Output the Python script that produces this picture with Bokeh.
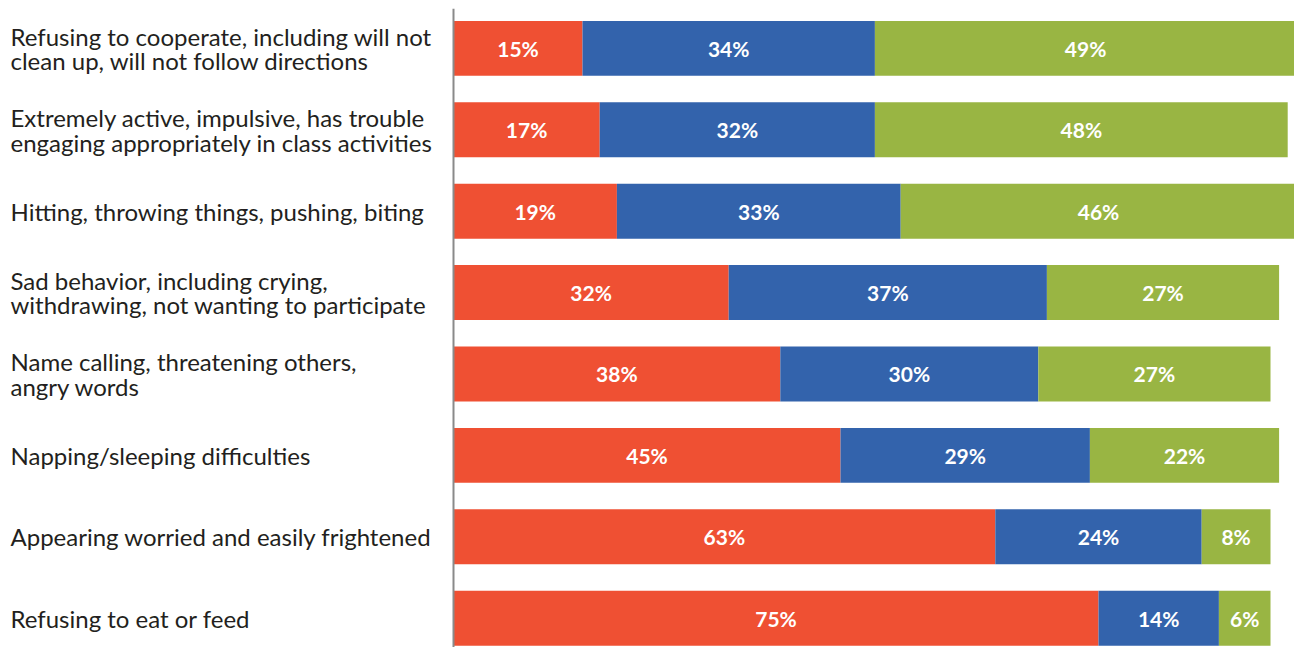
from bokeh.plotting import figure
from bokeh.models import Range1d, ColumnDataSource, Span
from bokeh.core.properties import value
from bokeh.embed import file_html
from bokeh.resources import INLINE

categories = [
    "Refusing to cooperate, including will not\nclean up, will not follow directions",
    "Extremely active, impulsive, has trouble\nengaging appropriately in class activities",
    "Hitting, throwing things, pushing, biting",
    "Sad behavior, including crying,\nwithdrawing, not wanting to participate",
    "Name calling, threatening others,\nangry words",
    "Napping/sleeping difficulties",
    "Appearing worried and easily frightened",
    "Refusing to eat or feed",
]
series_a = [15, 17, 19, 32, 38, 45, 63, 75]   # red
series_b = [34, 32, 33, 37, 30, 29, 24, 14]   # blue
series_c = [49, 48, 46, 27, 27, 22, 8, 6]     # green
colors = ["#EF5033", "#3363AC", "#99B543"]

W, H = 1294, 647
axis_px = 453
px_per = 8.6
x_start = -axis_px / px_per
x_end = (W - axis_px) / px_per

ys = list(range(len(categories)))

p = figure(width=W, height=H, output_backend="svg", toolbar_location=None,
           x_range=Range1d(x_start, x_end), y_range=Range1d(7.36, -0.49),
           min_border_left=0, min_border_right=0, min_border_top=8, min_border_bottom=0)
p.xaxis.visible = False
p.yaxis.visible = False
p.xgrid.visible = False
p.ygrid.visible = False
p.outline_line_color = None
p.background_fill_color = "white"
p.border_fill_color = "white"

lefts, rights, ys_all, cols, labels, mids = [], [], [], [], [], []
for i in ys:
    start = 0
    for vals, c in zip([series_a, series_b, series_c], colors):
        v = vals[i]
        lefts.append(start)
        rights.append(start + v)
        ys_all.append(i)
        cols.append(c)
        labels.append(f"{v}%")
        mids.append(start + v / 2)
        start += v

src = ColumnDataSource(dict(left=lefts, right=rights, y=ys_all, color=cols, label=labels, mid=mids))
p.hbar(y="y", left="left", right="right", height=0.675, fill_color="color", line_color=None, source=src)
p.text(x="mid", y="y", text="label", source=src, text_color="white",
       text_font=value("Lato"), text_font_style="bold", text_font_size="21px",
       text_align="center", text_baseline="middle")

p.add_layout(Span(location=0, dimension="height", line_color="#8a8a8a", line_width=2))

lab_src = ColumnDataSource(dict(x=[x_start + 10 / px_per] * len(categories), y=ys, text=categories))
p.text(x="x", y="y", text="text", source=lab_src, text_color="#231f20",
       text_font=value("Lato"), text_font_size="24px", text_align="left",
       text_baseline="middle", text_line_height=0.85)

open("out.html", "w").write(file_html(p, INLINE))
